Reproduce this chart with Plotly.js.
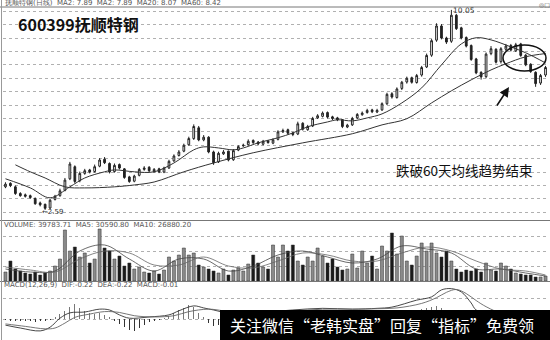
<!DOCTYPE html>
<html><head><meta charset="utf-8">
<script src="https://cdn.plot.ly/plotly-3.0.1.min.js"></script>
<style>html,body{margin:0;padding:0;background:#fff;}#c{width:550px;height:340px;}</style>
</head><body><div id="c"></div>
<script>
// ---- price (daily candles) ----
var openP = [3.45,3.58,3.45,3.20,3.15,3.12,3.02,2.85,2.80,2.66,
 2.98,3.12,3.32,3.75,4.20,3.68,3.95,4.08,4.02,4.22,
 4.48,4.32,4.02,4.28,4.12,3.82,3.66,3.88,4.10,4.18,
 4.02,4.12,4.00,4.15,4.42,4.62,4.78,5.02,5.25,5.65,
 5.20,5.30,4.75,4.38,4.68,4.78,4.46,4.82,4.98,5.02,
 5.18,5.12,5.04,5.16,5.08,5.22,5.50,5.58,5.46,5.42,
 5.82,5.58,5.72,6.02,6.08,6.22,6.06,6.02,5.96,5.68,
 5.76,6.02,6.14,6.22,6.32,6.24,6.32,6.55,6.92,6.78,
 7.12,7.36,7.52,7.34,7.62,7.92,8.36,8.92,9.45,9.00,
 8.88,9.85,9.38,9.02,8.72,8.22,7.72,7.56,8.42,8.58,
 8.12,8.58,8.72,8.52,8.78,8.36,8.02,7.72,7.32,7.62];
var highP = [3.62,3.62,3.50,3.25,3.20,3.16,3.05,2.90,2.82,3.00,
 3.15,3.38,3.78,4.38,4.25,4.02,4.12,4.12,4.28,4.52,
 4.56,4.36,4.32,4.32,4.15,3.86,3.90,4.15,4.22,4.22,
 4.15,4.16,4.20,4.46,4.66,4.82,5.06,5.32,5.78,5.72,
 5.38,5.34,4.80,4.76,4.82,4.80,4.86,5.00,5.06,5.22,
 5.22,5.16,5.20,5.20,5.26,5.56,5.62,5.62,5.50,5.88,
 5.86,5.76,6.06,6.16,6.26,6.26,6.10,6.06,5.98,5.80,
 6.06,6.20,6.26,6.36,6.36,6.36,6.60,6.96,6.98,7.16,
 7.40,7.56,7.56,7.66,7.96,8.42,8.96,9.55,9.52,9.05,
 10.05,9.90,9.42,9.06,8.76,8.26,7.76,8.46,8.70,8.62,
 8.66,8.78,8.78,8.82,8.82,8.40,8.06,7.76,7.66,7.96];
var lowP = [3.40,3.44,3.15,3.08,3.05,3.00,2.78,2.72,2.59,2.62,
 2.94,3.08,3.28,3.70,3.58,3.62,3.90,3.95,3.98,4.18,
 4.30,3.95,3.98,4.10,3.75,3.60,3.62,3.84,4.05,4.00,
 3.98,3.96,3.96,4.12,4.38,4.58,4.74,4.98,5.20,5.15,
 5.15,4.70,4.27,4.34,4.64,4.40,4.42,4.78,4.94,4.98,
 5.05,5.00,5.00,5.06,5.04,5.18,5.46,5.40,5.34,5.38,
 5.55,5.54,5.68,5.98,6.04,6.00,5.94,5.90,5.64,5.64,
 5.72,5.98,6.10,6.18,6.20,6.20,6.28,6.50,6.74,6.74,
 7.06,7.30,7.30,7.30,7.56,7.88,8.30,8.86,8.95,8.78,
 8.82,9.30,8.95,8.65,8.15,7.65,7.45,7.50,8.36,8.05,
 8.05,8.52,8.50,8.48,8.30,7.95,7.70,7.18,7.25,7.55];
var closeP = [3.55,3.50,3.20,3.12,3.10,3.05,2.82,2.78,2.65,2.95,
 3.10,3.30,3.70,4.30,3.65,3.95,4.05,4.00,4.20,4.45,
 4.35,4.00,4.25,4.15,3.80,3.65,3.85,4.10,4.15,4.05,
 4.10,4.00,4.15,4.40,4.60,4.75,5.00,5.25,5.70,5.20,
 5.30,4.75,4.35,4.70,4.75,4.45,4.80,4.95,5.00,5.15,
 5.10,5.05,5.15,5.10,5.20,5.50,5.55,5.45,5.40,5.80,
 5.60,5.70,6.00,6.10,6.20,6.05,6.00,5.95,5.70,5.75,
 6.00,6.15,6.20,6.30,6.25,6.30,6.55,6.90,6.80,7.10,
 7.35,7.50,7.35,7.60,7.90,8.35,8.90,9.45,9.00,8.85,
 9.85,9.35,9.00,8.70,8.20,7.70,7.55,8.40,8.60,8.10,
 8.60,8.70,8.55,8.75,8.35,8.00,7.75,7.30,7.60,7.90];

// ---- moving averages (read at sample days) ----
var ma20Day = [0,5,9,13,16,20,22,26,30,34,38,40,43,46,48,51,55,58,61,65,67,70,73,76,80,84,88,92,95,98,102,105,109];
var ma20 = [3.75,3.41,3.04,3.45,3.78,4.01,4.08,4.01,4.01,4.34,4.83,4.94,4.90,4.83,4.90,5.09,5.28,5.46,5.69,5.87,5.95,5.91,6.02,6.17,6.58,7.14,8.00,8.78,9.01,8.93,8.67,8.45,8.07];
var ma60Day = [2,5,8,12,16,22,26,30,36,42,50,60,70,76,81,86,90,94,98,101,105,109];
var ma60 = [4.27,4.01,3.78,3.45,3.41,3.45,3.52,3.63,4.01,4.34,4.72,5.09,5.43,5.76,5.99,6.58,7.03,7.44,7.81,8.04,8.30,8.42];

// ---- volume (thousand lots) ----
var volume = [9,20,12,10,8,7,9,6,8,10,
 15,22,51,30,34,24,28,18,22,52,
 33,30,22,25,15,18,12,14,9,8,
 10,7,11,24,20,26,33,26,28,16,
 14,12,10,8,12,6,11,13,10,17,
 26,18,14,12,36,24,36,30,36,20,
 16,24,20,33,25,18,22,14,11,12,
 27,13,30,18,25,12,35,30,48,27,
 45,20,16,25,38,30,38,28,24,30,
 20,12,9,11,10,12,9,18,11,10,
 18,15,12,8,7,6,6,4,4,5];
var volMaDay = [0,5,10,15,20,25,30,35,40,45,50,55,60,65,70,75,80,85,90,95,100,105,109];
var volMa5 = [12,9,10,30,36,22,10,22,22,10,15,26,30,24,18,22,35,32,28,12,12,8,5];
var volMa10 = [14,11,9,22,30,28,16,16,24,15,13,20,28,26,20,20,28,34,30,20,12,10,6];

// ---- MACD(12,26,9) ----
var difDay = [0,3,7,9,11,13,16,19,21,23,25,29,33,35,38,40,42,46,51,58,64,70,75,78,83,86,88,90,92,94,95,100,104,109];
var dif = [-0.15,-0.22,-0.29,-0.20,0.02,0.15,0.17,0.24,0.22,0.10,0.02,0.05,0.10,0.20,0.32,0.27,0.22,0.12,0.15,0.22,0.26,0.24,0.26,0.29,0.46,0.54,0.71,0.74,0.66,0.39,0.22,0.05,-0.10,-0.22];
var deaDay = [0,4,8,10,12,14,17,20,23,26,30,34,37,41,44,48,53,58,64,70,75,79,84,87,89,91,93,95,97,101,105,109];
var dea = [-0.12,-0.18,-0.24,-0.22,-0.10,0.04,0.12,0.18,0.16,0.08,0.05,0.08,0.18,0.24,0.20,0.14,0.15,0.19,0.24,0.24,0.25,0.27,0.38,0.52,0.65,0.72,0.62,0.45,0.30,0.08,-0.08,-0.21];
var macdHist = [-0.03,-0.04,-0.05,-0.06,-0.05,-0.06,-0.07,-0.06,-0.05,
 -0.02,0.05,0.12,0.20,0.30,0.36,0.28,0.20,0.15,0.12,0.14,0.10,0.06,
 -0.05,-0.12,-0.20,-0.28,-0.30,-0.22,-0.15,-0.08,-0.04,-0.02,
 0.03,0.08,0.15,0.22,0.28,0.34,0.30,0.15,0.05,
 -0.10,-0.18,-0.15,-0.12,-0.08,-0.05,-0.02,0.02,0.04,
 0.03,0.05,0.06,0.04,0.02,0.05,0.08,0.10,0.08,0.05,
 0.03,0.02,0.04,0.06,0.05,0.02,-0.02,-0.05,-0.06,-0.04,
 0.01,0.03,0.04,0.02,0.01,0.03,0.05,0.06,0.08,
 0.10,0.14,0.17,0.20,0.22,0.25,0.28,0.30,0.32,0.28,0.22,0.15,0.08,-0.02,-0.15,-0.28,-0.38,-0.42,-0.40,-0.35,-0.30,-0.25,-0.22,-0.18,-0.14,-0.10,-0.08,-0.06,-0.04,-0.03,-0.02];

var days = closeP.map(function(_, i){ return i; });
var volColors = closeP.map(function(c, i){ return c >= openP[i] ? '#8a8a8a' : '#1a1a1a'; });
var histColors = macdHist.map(function(v){ return v >= 0 ? '#777' : '#333'; });

var W = 550, H = 340, L = 3, R = 2;
function PX(px){ return (px - L) / (W - L - R); }
function PY(py){ return (H - py) / H; }

var traces = [
  {type:'candlestick', x:days, open:openP, high:highP, low:lowP, close:closeP,
   xaxis:'x', yaxis:'y', whiskerwidth:0, hoverinfo:'skip',
   increasing:{line:{color:'#222', width:1}, fillcolor:'#ffffff'},
   decreasing:{line:{color:'#222', width:1}, fillcolor:'#222222'}},
  {type:'scatter', mode:'lines', x:ma20Day, y:ma20, xaxis:'x', yaxis:'y',
   line:{color:'#333', width:1, shape:'spline'}, hoverinfo:'skip'},
  {type:'scatter', mode:'lines', x:ma60Day, y:ma60, xaxis:'x', yaxis:'y',
   line:{color:'#333', width:1, shape:'spline'}, hoverinfo:'skip'},
  {type:'bar', x:days, y:volume, xaxis:'x', yaxis:'y2', width:0.62,
   marker:{color:volColors, line:{color:'#333', width:0.5}}, hoverinfo:'skip'},
  {type:'scatter', mode:'lines', x:volMaDay, y:volMa5, xaxis:'x', yaxis:'y2',
   line:{color:'#444', width:0.8, shape:'spline'}, hoverinfo:'skip'},
  {type:'scatter', mode:'lines', x:volMaDay, y:volMa10, xaxis:'x', yaxis:'y2',
   line:{color:'#666', width:0.8, shape:'spline'}, hoverinfo:'skip'},
  {type:'bar', x:days, y:macdHist, xaxis:'x', yaxis:'y3', width:0.2,
   marker:{color:histColors}, hoverinfo:'skip'},
  {type:'scatter', mode:'lines', x:difDay, y:dif, xaxis:'x', yaxis:'y3',
   line:{color:'#333', width:0.9, shape:'spline'}, hoverinfo:'skip'},
  {type:'scatter', mode:'lines', x:deaDay, y:dea, xaxis:'x', yaxis:'y3',
   line:{color:'#666', width:0.9, shape:'spline'}, hoverinfo:'skip'}
];

var gridAx = {showgrid:true, gridcolor:'#b0b0b0', griddash:'dot', gridwidth:1,
  showticklabels:false, ticks:'', zeroline:false, showline:false, fixedrange:true};

var small = {family:'DejaVu Sans, Arial', size:7, color:'#555'};
var layout = {
  width:W, height:H, margin:{l:L, r:R, t:0, b:0},
  paper_bgcolor:'#fff', plot_bgcolor:'rgba(0,0,0,0)',
  showlegend:false, bargap:0, boxgap:0.5,
  xaxis:{range:[-0.5,109.5], visible:false, rangeslider:{visible:false}, fixedrange:true},
  yaxis:Object.assign({}, gridAx, {domain:[PY(219), PY(8)], range:[2.25,10.12], tick0:0, dtick:0.5}),
  yaxis2:Object.assign({}, gridAx, {domain:[PY(281), PY(228)], range:[0,53], tick0:0, dtick:15}),
  yaxis3:Object.assign({}, gridAx, {domain:[0, PY(288)], range:[-0.512,0.756], tick0:0, dtick:0.5}),
  shapes:[
    {type:'line', xref:'paper', yref:'paper', x0:PX(0), x1:PX(550), y0:PY(7), y1:PY(7), line:{color:'#777', width:1}},
    {type:'line', xref:'paper', yref:'paper', x0:PX(0), x1:PX(550), y0:PY(220.5), y1:PY(220.5), line:{color:'#777', width:1}},
    {type:'line', xref:'paper', yref:'paper', x0:PX(0), x1:PX(550), y0:PY(281.5), y1:PY(281.5), line:{color:'#777', width:1}},
    {type:'line', xref:'paper', yref:'paper', x0:PX(1.5), x1:PX(1.5), y0:PY(0), y1:PY(340), line:{color:'#999', width:1}},
    {type:'circle', xref:'paper', yref:'paper', x0:PX(503), x1:PX(546), y0:PY(71), y1:PY(45), line:{color:'#111', width:1.5}},
    {type:'rect', xref:'paper', yref:'paper', x0:PX(220), x1:PX(551), y0:PY(340), y1:PY(310), fillcolor:'#000', line:{width:0}, layer:'above'}
  ],
  annotations:[
    {xref:'paper', yref:'paper', x:PX(2), y:PY(3.5), xanchor:'left', yanchor:'middle', showarrow:false,
     text:'抚顺特钢(日线)  MA2: 7.89  MA2: 7.89  MA20: 8.07  MA60: 8.42', font:small},
    {xref:'paper', yref:'paper', x:PX(16), y:PY(24), xanchor:'left', yanchor:'middle', showarrow:false,
     text:'<b>600399抚顺特钢</b>', font:{family:'Noto Sans CJK SC, Liberation Sans', size:16, color:'#111'}},
    {xref:'paper', yref:'paper', x:PX(394), y:PY(170), xanchor:'left', yanchor:'middle', showarrow:false,
     text:'跌破60天均线趋势结束', font:{family:'Noto Sans CJK SC', size:13.5, color:'#111'}},
    {xref:'paper', yref:'paper', x:PX(451), y:PY(11), xanchor:'left', yanchor:'middle', showarrow:false,
     text:'10.05', font:{family:'DejaVu Sans, Arial', size:7.5, color:'#333'}},
    {xref:'paper', yref:'paper', x:PX(40), y:PY(212), xanchor:'left', yanchor:'middle', showarrow:false,
     text:'←2.59', font:{family:'DejaVu Sans, Arial', size:7, color:'#333'}},
    {xref:'paper', yref:'paper', x:PX(2), y:PY(225), xanchor:'left', yanchor:'middle', showarrow:false,
     text:'VOLUME: 39783.71  MA5: 30590.80  MA10: 26880.20', font:small},
    {xref:'paper', yref:'paper', x:PX(2), y:PY(285), xanchor:'left', yanchor:'middle', showarrow:false,
     text:'MACD(12,26,9)  DIF:-0.22  DEA:-0.22  MACD:-0.01', font:small},
    {xref:'paper', yref:'paper', x:PX(537), y:PY(5), xanchor:'left', yanchor:'middle', showarrow:false,
     text:'◎□', font:{family:'DejaVu Sans', size:6, color:'#555'}},
    {xref:'paper', yref:'paper', x:PX(509), y:PY(87), ax:-13, ay:20, showarrow:true, arrowhead:2,
     arrowsize:1.2, arrowwidth:1.6, arrowcolor:'#111', text:''},
    {xref:'paper', yref:'paper', x:PX(228), y:PY(325), xanchor:'left', yanchor:'middle', showarrow:false,
     text:'关注微信“老韩实盘”回复“指标”免费领', font:{family:'Noto Sans CJK SC', size:16, color:'#fff'}}
  ]
};

Plotly.newPlot('c', traces, layout, {staticPlot:true, displayModeBar:false});
</script>
</body></html>
